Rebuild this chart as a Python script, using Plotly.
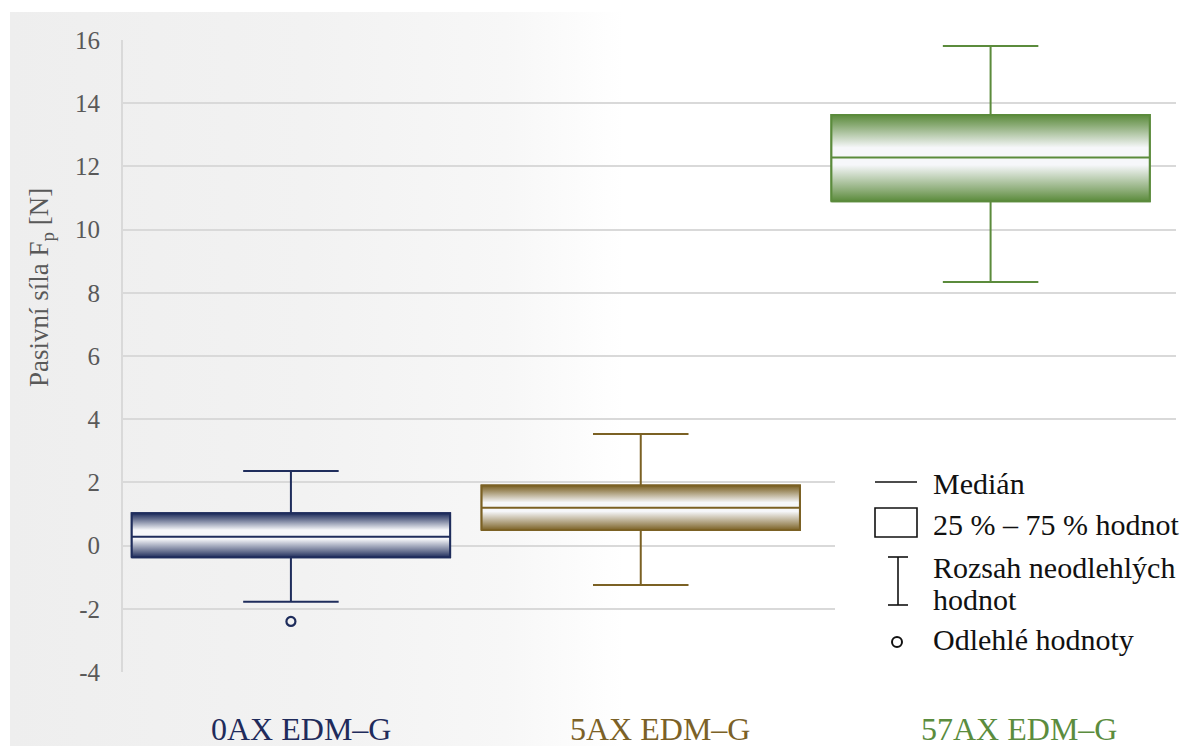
import base64
import plotly.graph_objects as go

# ---- data -------------------------------------------------------------
categories = ["0AX EDM–G", "5AX EDM–G", "57AX EDM–G"]
q1 = [-0.37, 0.49, 10.90]
median = [0.28, 1.20, 12.28]
q3 = [1.02, 1.90, 13.63]
lower_whisker = [-1.78, -1.25, 8.34]
upper_whisker = [2.36, 3.53, 15.81]
outliers = [[-2.40], [], []]
y_ticks = [-4, -2, 0, 2, 4, 6, 8, 10, 12, 14, 16]

# ---- styling ----------------------------------------------------------
line_colors = ["#1f2d5c", "#7b6124", "#5b8b3c"]
label_colors = ["#1f2b5b", "#7b6127", "#5b8c3e"]
light = "#f6f7fa"
BOX_W = 0.91
SERIF = "Liberation Serif"

W, H = 1189, 746
L, R, T, B = 123, 13, 40, 74
PW, PH = W - L - R, H - T - B


def px(xp):
    return (xp - L) / PW


def py(yp):
    return (H - B - yp) / PH


def blend(c, t):
    c = c.lstrip("#")
    r, g, b = (int(c[k:k + 2], 16) for k in (0, 2, 4))
    lr, lg, lb = (int(light[1:][k:k + 2], 16) for k in (0, 2, 4))
    return "#%02x%02x%02x" % (round(r + (lr - r) * t), round(g + (lg - g) * t), round(b + (lb - b) * t))


fig = go.Figure()

for i, cat in enumerate(categories):
    c = line_colors[i]
    x0, x1 = i - BOX_W / 2, i + BOX_W / 2
    # whiskers, caps and box from the five-number summary
    fig.add_trace(go.Box(
        x=[i], q1=[q1[i]], median=[median[i]], q3=[q3[i]],
        lowerfence=[lower_whisker[i]], upperfence=[upper_whisker[i]],
        width=BOX_W, whiskerwidth=0.3, boxpoints=False,
        line=dict(color=c, width=2), fillcolor="rgba(0,0,0,0)",
        name=cat, showlegend=False,
    ))
    # cylinder-like shading inside the interquartile box
    fig.add_trace(go.Scatter(
        x=[x0, x1, x1, x0, x0],
        y=[q1[i], q1[i], q3[i], q3[i], q1[i]],
        mode="none", fill="toself",
        fillgradient=dict(
            type="vertical",
            colorscale=[[0, c], [0.12, blend(c, 0.3)], [0.42, light], [0.62, light],
                        [0.88, blend(c, 0.3)], [1, c]],
            start=q1[i], stop=q3[i],
        ),
        hoverinfo="skip", showlegend=False,
    ))
    # box outline and median drawn over the shading
    fig.add_trace(go.Scatter(
        x=[x0, x1, x1, x0, x0, None, x0, x1],
        y=[q1[i], q1[i], q3[i], q3[i], q1[i], None, median[i], median[i]],
        mode="lines", line=dict(color=c, width=2),
        hoverinfo="skip", showlegend=False,
    ))
    if outliers[i]:
        fig.add_trace(go.Scatter(
            x=[i] * len(outliers[i]), y=outliers[i], mode="markers",
            marker=dict(symbol="circle-open", size=9, color=c, line=dict(width=2.2)),
            showlegend=False,
        ))

# category labels under the plot
annotations = []
for i, cat in enumerate(categories):
    annotations.append(dict(
        x=i + 0.03 + 0.025 * i, y=py(729), xref="x", yref="paper",
        text=cat, showarrow=False, xanchor="center", yanchor="middle",
        font=dict(family=SERIF, size=32, color=label_colors[i]),
    ))

# y axis title
annotations.append(dict(
    x=px(41), y=py(288), xref="paper", yref="paper",
    text="Pasivní síla F<sub>p</sub> [N]", textangle=-90, showarrow=False,
    xanchor="center", yanchor="middle",
    font=dict(family=SERIF, size=27, color="#595959"),
))

# key explaining the box elements
for text, yc in [("Medián", 483), ("25 % – 75 % hodnot", 524),
                 ("Rozsah neodlehlých", 567), ("hodnot", 599),
                 ("Odlehlé hodnoty", 639)]:
    annotations.append(dict(
        x=px(931), y=py(yc), xref="paper", yref="paper", text=text,
        showarrow=False, xanchor="left", yanchor="middle",
        font=dict(family=SERIF, size=30, color="#111111"),
    ))

k = dict(color="#111111", width=1.6)
shapes = [
    dict(type="rect", xref="paper", yref="paper", x0=px(835), x1=px(1176),
         y0=py(664), y1=py(428), fillcolor="white", line=dict(width=0), layer="above"),
    dict(type="line", xref="paper", yref="paper", x0=px(875), x1=px(917),
         y0=py(482), y1=py(482), line=k, layer="above"),
    dict(type="rect", xref="paper", yref="paper", x0=px(875), x1=px(917),
         y0=py(537), y1=py(508), fillcolor="white", line=k, layer="above"),
    dict(type="line", xref="paper", yref="paper", x0=px(888), x1=px(908),
         y0=py(557), y1=py(557), line=k, layer="above"),
    dict(type="line", xref="paper", yref="paper", x0=px(898), x1=px(898),
         y0=py(557), y1=py(605), line=k, layer="above"),
    dict(type="line", xref="paper", yref="paper", x0=px(888), x1=px(908),
         y0=py(605), y1=py(605), line=k, layer="above"),
    dict(type="circle", xref="paper", yref="paper", x0=px(892), x1=px(902),
         y0=py(647), y1=py(637), fillcolor="white",
         line=dict(color="#111111", width=2), layer="above"),
]

# soft grey-to-white page background
svg = ('<svg xmlns="http://www.w3.org/2000/svg" viewBox="0 0 100 100" '
       'preserveAspectRatio="none"><defs><linearGradient id="g" x1="0" x2="1" y1="0" y2="0">'
       '<stop offset="0" stop-color="#eeeeee"/><stop offset="0.25" stop-color="#f2f2f2"/>'
       '<stop offset="0.42" stop-color="#f7f7f7"/><stop offset="0.52" stop-color="#ffffff"/>'
       '<stop offset="1" stop-color="#ffffff"/></linearGradient></defs>'
       '<rect width="100" height="100" fill="url(#g)"/></svg>')
bg_src = "data:image/svg+xml;base64," + base64.b64encode(svg.encode()).decode()

fig.update_layout(
    width=W, height=H,
    margin=dict(l=L, r=R, t=T, b=B),
    paper_bgcolor="white", plot_bgcolor="rgba(0,0,0,0)",
    font=dict(family=SERIF),
    showlegend=False, boxmode="overlay",
    xaxis=dict(range=[-0.48, 2.53], showgrid=False, showticklabels=False,
               zeroline=False, showline=False, fixedrange=True),
    yaxis=dict(range=[-4, 16], tickvals=y_ticks, ticktext=[str(v) for v in y_ticks],
               showgrid=True, gridcolor="#d9d9d9", gridwidth=2,
               showline=True, linecolor="#d9d9d9", linewidth=2,
               zeroline=False, ticks="", ticklabelstandoff=16,
               tickfont=dict(family=SERIF, size=25, color="#595959")),
    images=[dict(source=bg_src, xref="paper", yref="paper",
                 x=px(10), y=py(12), sizex=(W - 10) / PW, sizey=(H - 12) / PH,
                 xanchor="left", yanchor="top", sizing="stretch", layer="below")],
    annotations=annotations,
    shapes=shapes,
)

fig.write_html("out.html")
